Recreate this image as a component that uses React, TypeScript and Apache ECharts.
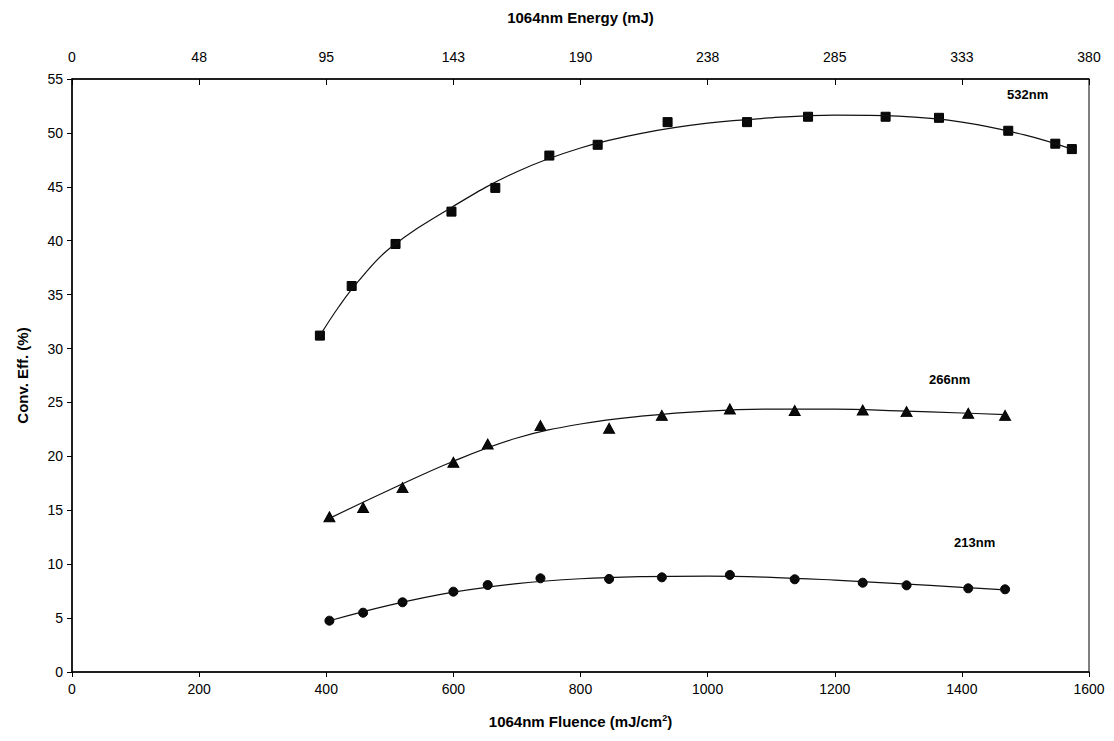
import React, { useEffect, useRef } from "react";
import * as echarts from "echarts";

const fluence532 = [390, 440, 509, 597, 666, 751, 827, 937, 1062, 1158, 1280, 1364, 1473, 1547, 1573];
const eff532 = [31.2, 35.8, 39.7, 42.7, 44.9, 47.9, 48.9, 51.0, 51.0, 51.5, 51.5, 51.4, 50.2, 49.0, 48.5];

const fluenceUV = [405, 458, 520, 600, 654, 737, 845, 928, 1035, 1137, 1244, 1313, 1410, 1468];
const eff266 = [14.4, 15.25, 17.1, 19.45, 21.15, 22.85, 22.6, 23.8, 24.4, 24.25, 24.3, 24.15, 24.0, 23.8];
const eff213 = [4.76, 5.5, 6.47, 7.45, 8.07, 8.69, 8.63, 8.78, 9.0, 8.6, 8.28, 8.04, 7.76, 7.67];

// Trend curves as drawn in the picture
const trend532X = [390, 420, 450, 500, 600, 700, 800, 900, 1000, 1100, 1200, 1300, 1400, 1500, 1573];
const trend532Y = [31.2, 33.9, 36.2, 39.3, 43.2, 46.4, 48.6, 50.0, 50.9, 51.4, 51.65, 51.55, 51.0, 49.8, 48.5];
const trend266X = [405, 500, 600, 700, 800, 900, 1000, 1100, 1200, 1300, 1400, 1468];
const trend266Y = [14.25, 16.9, 19.55, 21.7, 23.0, 23.75, 24.2, 24.38, 24.38, 24.22, 24.02, 23.88];
const trend213X = [405, 500, 600, 700, 800, 900, 1000, 1100, 1200, 1300, 1400, 1468];
const trend213Y = [4.75, 6.2, 7.4, 8.2, 8.65, 8.85, 8.9, 8.78, 8.52, 8.2, 7.85, 7.62];

const seriesNames = ["532nm", "266nm", "213nm"];

// Axes
const fluenceMin = 0;
const fluenceMax = 1600;
const fluenceStep = 200;
const energyMin = 0;
const energyMax = 380;
const energyStep = 47.5;
const effMin = 0;
const effMax = 55;
const effStep = 5;

const zip = (xs: number[], ys: number[]) => xs.map((x, i) => [x, ys[i]]);

const FONT = "Liberation Sans, Arial, sans-serif";

export default function App() {
  const ref = useRef<HTMLDivElement>(null);
  useEffect(() => {
    if (!ref.current) return;
    const chart = echarts.init(ref.current, undefined, { renderer: "svg" });
    const lineStyle = { color: "#111", width: 1.2 };
    const markerStyle = { color: "#0a0a0a", borderColor: "#000", borderWidth: 1, opacity: 1 };
    const labelText = { fill: "#000", fontFamily: FONT, fontWeight: "bold", fontSize: 13 };
    chart.setOption({
      animation: false,
      backgroundColor: "#fff",
      grid: {
        left: 72,
        right: 25,
        top: 79,
        bottom: 69,
        show: true,
        borderColor: "#000",
        borderWidth: 1,
      },
      xAxis: [
        {
          type: "value",
          position: "bottom",
          min: fluenceMin,
          max: fluenceMax,
          interval: fluenceStep,
          name: "1064nm Fluence (mJ/cm{sup|2})",
          nameLocation: "middle",
          nameGap: 41,
          nameTextStyle: {
            color: "#000",
            fontFamily: FONT,
            fontWeight: "bold",
            fontSize: 15,
            rich: { sup: { fontSize: 9, fontWeight: "bold", fontFamily: FONT, color: "#000", verticalAlign: "top", padding: [0, 0, 8, 0] } },
          },
          axisLine: { show: true, lineStyle: { color: "#000", width: 1.5 } },
          axisTick: { show: true, inside: false, length: 5, lineStyle: { color: "#000" } },
          axisLabel: { color: "#000", fontFamily: FONT, fontSize: 14, margin: 10, formatter: (v: number) => String(v) },
          splitLine: { show: false },
        },
        {
          type: "value",
          position: "top",
          min: energyMin,
          max: energyMax,
          interval: energyStep,
          name: "1064nm Energy (mJ)",
          nameLocation: "middle",
          nameGap: 54,
          nameTextStyle: { color: "#000", fontFamily: FONT, fontWeight: "bold", fontSize: 15 },
          axisLine: { show: true, lineStyle: { color: "#000", width: 1.5 } },
          axisTick: { show: true, inside: true, length: 6, lineStyle: { color: "#000" } },
          axisLabel: {
            color: "#000",
            fontFamily: FONT,
            fontSize: 14,
            margin: 15,
            formatter: (v: number) => String(Math.round(v)),
          },
          splitLine: { show: false },
        },
      ],
      yAxis: [
        {
          type: "value",
          min: effMin,
          max: effMax,
          interval: effStep,
          name: "Conv. Eff. (%)",
          nameLocation: "middle",
          nameGap: 42,
          nameRotate: 90,
          nameTextStyle: { color: "#000", fontFamily: FONT, fontWeight: "bold", fontSize: 15 },
          axisLine: { show: true, lineStyle: { color: "#000", width: 1.5 } },
          axisTick: { show: true, inside: false, length: 5, lineStyle: { color: "#000" } },
          axisLabel: { color: "#000", fontFamily: FONT, fontSize: 14, margin: 9 },
          splitLine: { show: false },
        },
      ],
      series: [
        {
          name: seriesNames[0] + " trend",
          type: "line",
          smooth: 0.4,
          showSymbol: false,
          data: zip(trend532X, trend532Y),
          lineStyle,
          silent: true,
        },
        {
          name: seriesNames[1] + " trend",
          type: "line",
          smooth: 0.4,
          showSymbol: false,
          data: zip(trend266X, trend266Y),
          lineStyle,
          silent: true,
        },
        {
          name: seriesNames[2] + " trend",
          type: "line",
          smooth: 0.4,
          showSymbol: false,
          data: zip(trend213X, trend213Y),
          lineStyle,
          silent: true,
        },
        {
          name: seriesNames[0],
          type: "scatter",
          symbol: "rect",
          symbolSize: 9,
          data: zip(fluence532, eff532),
          itemStyle: markerStyle,
        },
        {
          name: seriesNames[1],
          type: "scatter",
          symbol: "triangle",
          symbolSize: [11, 10],
          data: zip(fluenceUV, eff266),
          itemStyle: markerStyle,
        },
        {
          name: seriesNames[2],
          type: "scatter",
          symbol: "circle",
          symbolSize: 9,
          data: zip(fluenceUV, eff213),
          itemStyle: markerStyle,
        },
      ],
      graphic: [
        { type: "text", left: 1007, top: 88, style: { ...labelText, text: seriesNames[0] } },
        { type: "text", left: 929, top: 373, style: { ...labelText, text: seriesNames[1] } },
        { type: "text", left: 954, top: 536, style: { ...labelText, text: seriesNames[2] } },
      ],
    });
    return () => chart.dispose();
  }, []);
  return (
    <div
      ref={ref}
      style={{ position: "fixed", left: 0, top: 0, width: 1114, height: 741, background: "#fff" }}
    />
  );
}
